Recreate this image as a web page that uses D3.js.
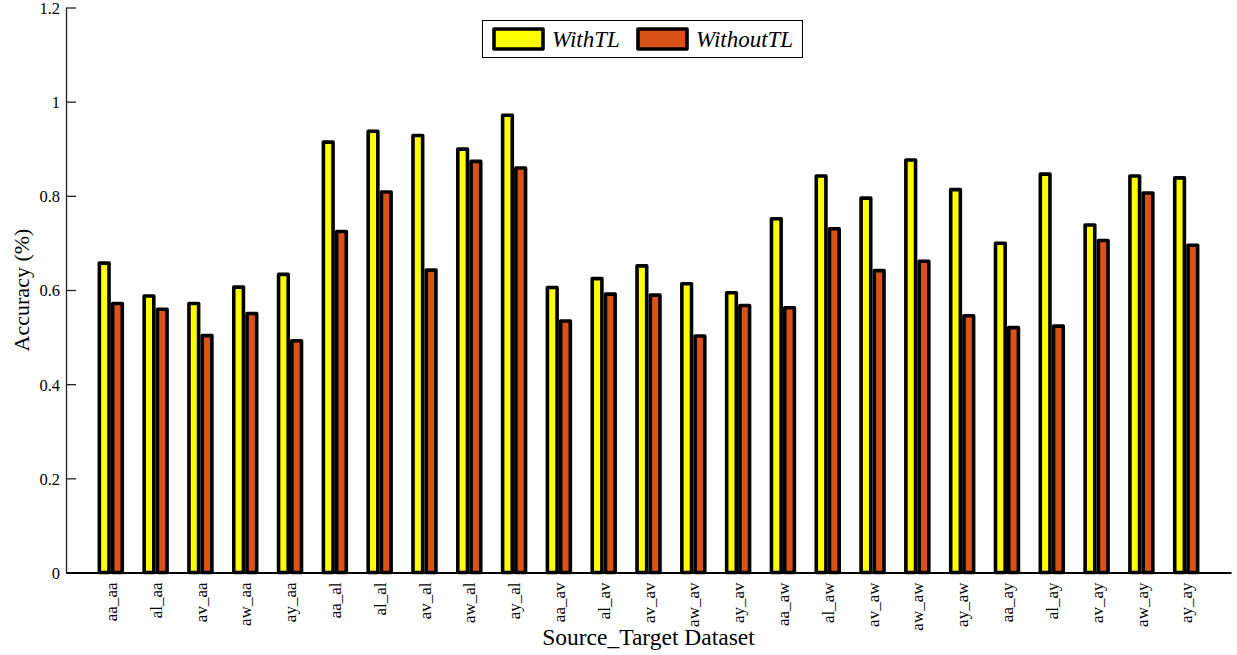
<!DOCTYPE html>
<html lang="en">
<head>
<meta charset="UTF-8">
<title>Accuracy bar chart</title>
<style>
body { margin: 0; background: #fff; }
svg text { font-family: "Times New Roman", "Liberation Serif", Times, "DejaVu Serif", serif; fill: #000; }
.bar { stroke: #000; stroke-width: 3.6px; stroke-linejoin: round; }
</style>
</head>
<body>
<script src="https://cdn.jsdelivr.net/npm/d3@7"></script>
<script>
var categories = ["aa_aa", "al_aa", "av_aa", "aw_aa", "ay_aa",
    "aa_al", "al_al", "av_al", "aw_al", "ay_al",
    "aa_av", "al_av", "av_av", "aw_av", "ay_av",
    "aa_aw", "al_aw", "av_aw", "aw_aw", "ay_aw",
    "aa_ay", "al_ay", "av_ay", "aw_ay", "ay_ay"];

var withTL = [0.661, 0.591, 0.575, 0.610, 0.637,
    0.918, 0.941, 0.932, 0.903, 0.975,
    0.609, 0.628, 0.655, 0.617, 0.598,
    0.755, 0.846, 0.799, 0.880, 0.817,
    0.703, 0.850, 0.742, 0.846, 0.842];

var withoutTL = [0.575, 0.563, 0.507, 0.554, 0.496,
    0.728, 0.812, 0.646, 0.877, 0.863,
    0.538, 0.595, 0.593, 0.506, 0.571,
    0.566, 0.734, 0.645, 0.665, 0.549,
    0.524, 0.527, 0.709, 0.810, 0.699];

var seriesNames = ["WithTL", "WithoutTL"];
var seriesColors = ["#ffff00", "#d95319"];

var yTicks = [0, 0.2, 0.4, 0.6, 0.8, 1, 1.2];
var yTickLabels = ["0", "0.2", "0.4", "0.6", "0.8", "1", "1.2"];

var serif = '"Times New Roman", "Liberation Serif", Times, "DejaVu Serif", serif';
var width = 1237, height = 655;

var svg = d3.select("body").append("svg")
    .attr("width", width)
    .attr("height", height)
    .style("font-family", serif);

var x = d3.scaleLinear().domain([0, categories.length + 1]).range([66, 1231]);
var y = d3.scaleLinear().domain([0, 1.2]).range([572.5, 7.5]);

var barW = 0.296; // bar width in category units
var sw = 3.6;

var series = [withTL, withoutTL];

series.forEach(function(vals, s) {
    svg.append("g").selectAll("rect")
        .data(vals)
        .enter().append("rect")
        .attr("class", "bar")
        .attr("fill", seriesColors[s])
        .attr("x", function(d, i) {
            var left = (i + 1) + (s === 0 ? -barW : 0);
            return x(left) + sw / 2;
        })
        .attr("width", x(barW) - x(0) - sw)
        .attr("y", function(d) { return y(d) + sw / 2; })
        .attr("height", function(d) { return y(0) - y(d) - sw / 2; });
});

// y axis
var yAxis = svg.append("g")
    .attr("transform", "translate(" + x(0) + ",0)")
    .call(d3.axisLeft(y)
        .tickValues(yTicks)
        .tickFormat(function(d, i) { return yTickLabels[i]; })
        .tickSizeInner(-10)
        .tickSizeOuter(0)
        .tickPadding(6));
yAxis.attr("font-family", serif);
yAxis.select(".domain").attr("stroke", "#222").attr("stroke-width", 1.3);
yAxis.selectAll(".tick line").attr("stroke", "#222").attr("stroke-width", 1.3);
yAxis.selectAll("text")
    .attr("dy", "0.36em")
    .style("font-family", serif)
    .style("font-size", "16.5px");

// x axis
var xAxis = svg.append("g")
    .attr("transform", "translate(0," + y(0) + ")")
    .call(d3.axisBottom(x)
        .tickValues(d3.range(1, categories.length + 1))
        .tickFormat(function(d) { return categories[d - 1]; })
        .tickSize(0)
        .tickSizeOuter(0));
xAxis.attr("font-family", serif);
xAxis.select(".domain").attr("stroke", "#000").attr("stroke-width", 1.8);
xAxis.selectAll("text")
    .attr("transform", "rotate(-90)")
    .attr("x", -10)
    .attr("y", 0)
    .attr("dy", ".33em")
    .style("text-anchor", "end")
    .style("font-family", serif)
    .style("font-size", "17px");

// axis titles
svg.append("text")
    .attr("transform", "translate(29," + y(0.6) + ") rotate(-90)")
    .attr("text-anchor", "middle")
    .style("font-family", serif)
    .style("font-size", "22px")
    .text("Accuracy (%)");

svg.append("text")
    .attr("x", (x(0) + x(categories.length + 1)) / 2)
    .attr("y", 645)
    .attr("text-anchor", "middle")
    .style("font-family", serif)
    .style("font-size", "23.5px")
    .text("Source_Target Dataset");

// legend
var legend = svg.append("g");
legend.append("rect")
    .attr("x", 482.5).attr("y", 20.5)
    .attr("width", 320).attr("height", 37)
    .attr("fill", "#fff").attr("stroke", "#000").attr("stroke-width", 1);

var legendX = [494, 638];
seriesNames.forEach(function(name, s) {
    legend.append("rect")
        .attr("class", "bar")
        .attr("x", legendX[s]).attr("y", 29)
        .attr("width", 49).attr("height", 20)
        .attr("fill", seriesColors[s]);
    legend.append("text")
        .attr("x", legendX[s] + 58)
        .attr("y", 47)
        .style("font-family", serif)
        .style("font-size", "23px")
        .style("font-style", "italic")
        .text(name);
});
</script>
</body>
</html>
